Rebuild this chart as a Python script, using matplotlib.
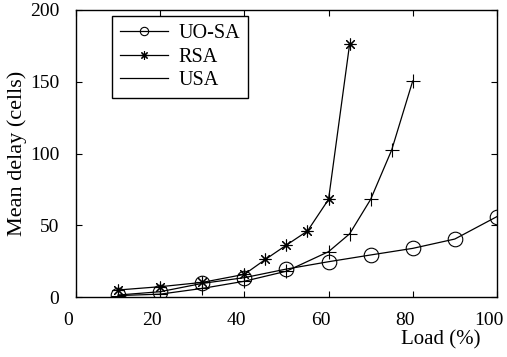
import matplotlib
matplotlib.use("Agg")
import matplotlib.pyplot as plt
import matplotlib.transforms as mtransforms
from matplotlib.lines import Line2D

plt.rcParams['font.family'] = ['Liberation Serif', 'DejaVu Serif']

uosa_x = [10, 20, 30, 40, 50, 60, 70, 80, 90, 100]
uosa_y = [1.4, 3.7, 9.5, 13.5, 19.5, 24.6, 29.3, 33.9, 40.4, 56]
rsa_x = [10, 20, 30, 40, 45, 50, 55, 60, 65]
rsa_y = [4.9, 7.2, 10.2, 15.8, 26.2, 36.2, 46, 68, 176]
usa_x = [10, 20, 30, 40, 50, 60, 65, 70, 75, 80]
usa_y = [1, 2, 6, 11, 18, 31.6, 44, 68, 102.4, 150.5]

fig = plt.figure(figsize=(5.07, 3.57), dpi=100)
ax = fig.add_axes([0.150, 0.168, 0.830, 0.804])

lw = 0.9
ax.plot(uosa_x, uosa_y, color='black', lw=lw, marker='o', ms=10.5,
        mfc='none', mec='black', mew=0.8)
ax.plot(rsa_x, rsa_y, color='black', lw=lw, marker=(8, 2, 0), ms=8.5,
        mec='black', mew=0.8)
ax.plot(usa_x, usa_y, color='black', lw=lw, marker='+', ms=10,
        mec='black', mew=0.8)

ax.set_xlim(0, 100)
ax.set_ylim(0, 200)
ax.set_xticks([0, 20, 40, 60, 80, 100])
ax.set_yticks([0, 50, 100, 150, 200])
ax.tick_params(direction='in', top=True, right=True, labelsize=14,
               length=4, width=0.8)
ax.tick_params(axis='x', pad=11)
ax.tick_params(axis='y', pad=12)
for s in ax.spines.values():
    s.set_linewidth(1.0)

# shift x tick labels slightly left as in the reference
offset = mtransforms.ScaledTranslation(-8 / 100, 0, fig.dpi_scale_trans)
for lab in ax.get_xticklabels():
    lab.set_transform(lab.get_transform() + offset)

ax.set_ylabel('Mean delay (cells)', fontsize=16)
ax.set_xlabel('Load (%)', fontsize=15)
ax.xaxis.set_label_coords((441 - 76) / 421, -(340 - 297) / 287)
ax.yaxis.set_label_coords(-(76 - 17) / 421, 0.5)
ax.xaxis.label.set_va('center')
ax.yaxis.label.set_va('center')

handles = [
    Line2D([], [], color='black', lw=lw, marker='o', ms=6, mfc='none', mew=0.8),
    Line2D([], [], color='black', lw=lw, marker=(8, 2, 0), ms=6, mew=0.8),
    Line2D([], [], color='black', lw=lw),
]
leg = ax.legend(handles, ['UO-SA', 'RSA', 'USA'], loc='upper left',
                bbox_to_anchor=(0.0855, 0.979), fontsize=14.5, frameon=True,
                fancybox=False, edgecolor='black', framealpha=1,
                handlelength=2.4, borderpad=0.4, labelspacing=0.22,
                handletextpad=0.5, borderaxespad=0)
leg.get_frame().set_linewidth(1.0)

fig.savefig('out.png', dpi=100)
